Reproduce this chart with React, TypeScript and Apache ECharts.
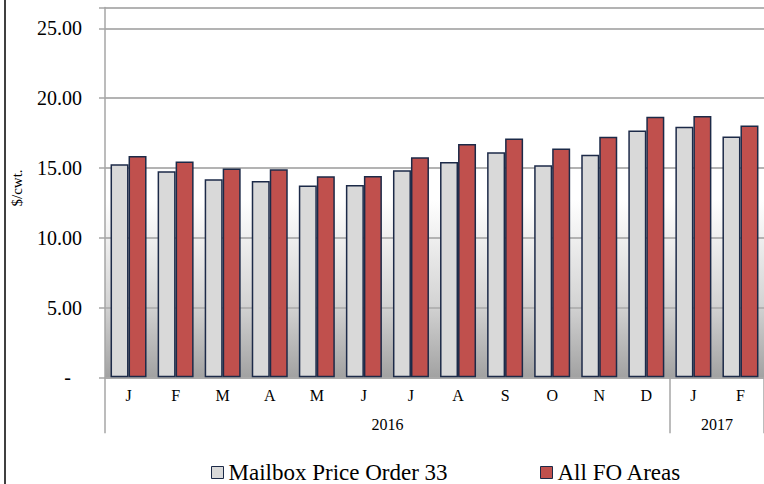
import React, { useEffect, useRef } from "react";
import * as echarts from "echarts";

const months = ["J", "F", "M", "A", "M", "J", "J", "A", "S", "O", "N", "D", "J", "F"];
const years = ["2016", "2017"];
const yearSpans = [12, 2];
const mailboxName = "Mailbox Price Order 33";
const allFoName = "All FO Areas";
const mailbox = [15.26, 14.76, 14.2, 14.06, 13.75, 13.78, 14.83, 15.42, 16.13, 15.19, 15.95, 17.69, 17.95, 17.26];
const allFo = [15.85, 15.47, 14.97, 14.9, 14.4, 14.42, 15.76, 16.71, 17.12, 16.4, 17.24, 18.67, 18.72, 18.05];
const yTicks = [0, 5, 10, 15, 20, 25];

const FONT = "Liberation Serif";

export default function App() {
  const ref = useRef<HTMLDivElement>(null);

  useEffect(() => {
    if (!ref.current) return;
    const chart = echarts.init(ref.current, undefined, { renderer: "svg" });

    // year axis built on half-category steps
    const n = months.length * 2 + 1;
    const yearData: string[] = new Array(n).fill("");
    const boundaryIdx: number[] = [0];
    let start = 0;
    years.forEach((y, i) => {
      const end = start + yearSpans[i];
      yearData[start + end] = y; // midpoint in half steps
      boundaryIdx.push(end * 2);
      start = end;
    });

    const border = "#1c2a48";
    const legendText = { fontFamily: FONT, fontSize: 23, color: "#000", lineHeight: 23 };

    chart.setOption({
      animation: false,
      backgroundColor: "#ffffff",
      textStyle: { fontFamily: FONT, color: "#000" },
      grid: {
        left: 105,
        right: -3,
        top: 7.5,
        bottom: 484 - 377.3,
        show: true,
        borderWidth: 0,
        backgroundColor: new echarts.graphic.LinearGradient(0, 0, 0, 1, [
          { offset: 0, color: "#ffffff" },
          { offset: 0.52, color: "#ffffff" },
          { offset: 0.8, color: "#d4d4d4" },
          { offset: 1, color: "#a2a2a2" },
        ]),
      },
      legend: [
        {
          data: [mailboxName],
          icon: "rect",
          left: 211,
          top: 461,
          padding: 0,
          itemWidth: 12,
          itemHeight: 12,
          textStyle: legendText,
          itemStyle: { borderColor: border, borderWidth: 1 },
        },
        {
          data: [allFoName],
          icon: "rect",
          left: 540,
          top: 461,
          padding: 0,
          itemWidth: 12,
          itemHeight: 12,
          textStyle: legendText,
          itemStyle: { borderColor: border, borderWidth: 1 },
        },
      ],
      xAxis: [
        {
          type: "category",
          data: months,
          position: "bottom",
          axisLine: { show: true, lineStyle: { color: "#a6a6a6", width: 1.5 } },
          axisTick: { show: false },
          axisLabel: { interval: 0, margin: 10, fontFamily: FONT, fontSize: 16, color: "#000" },
          splitLine: { show: false },
        },
        {
          type: "category",
          data: yearData,
          boundaryGap: false,
          position: "bottom",
          offset: 0,
          axisLine: { show: false },
          axisTick: {
            show: true,
            length: 56,
            interval: (index: number) => boundaryIdx.indexOf(index) >= 0,
            lineStyle: { color: "#a6a6a6", width: 1.5 },
          },
          axisLabel: {
            interval: (index: number, value: string) => value !== "",
            margin: 39,
            fontFamily: FONT,
            fontSize: 16,
            color: "#000",
          },
          splitLine: { show: false },
        },
      ],
      yAxis: {
        type: "value",
        min: 0,
        max: 26.5,
        interval: 5,
        axisLine: { show: true, lineStyle: { color: "#a6a6a6", width: 1.5 } },
        axisTick: { show: true, length: 6, lineStyle: { color: "#a6a6a6", width: 1.5 } },
        splitLine: { show: true, lineStyle: { color: "#b3b3b3", width: 2 } },
        axisLabel: {
          margin: 23,
          fontFamily: FONT,
          fontSize: 20,
          color: "#000",
          formatter: (v: number) => {
            if (yTicks.indexOf(v) < 0) return "";
            if (v === 0) return "{d|-}";
            return v.toFixed(2);
          },
          rich: {
            d: { fontFamily: FONT, fontSize: 20, color: "#000", padding: [0, 11, 0, 0] },
          },
        },
      },
      graphic: [
        {
          type: "line",
          shape: { x1: 5, y1: 0, x2: 5, y2: 484 },
          style: { stroke: "#000", lineWidth: 1.5 },
          silent: true,
        },
        {
          type: "text",
          x: 17,
          y: 188,
          rotation: Math.PI / 2,
          style: {
            text: "$/cwt.",
            fontFamily: FONT,
            fontSize: 15,
            fill: "#000",
            align: "center",
            verticalAlign: "middle",
          },
          silent: true,
        },
      ],
      series: [
        {
          name: mailboxName,
          type: "bar",
          data: mailbox,
          barWidth: 18,
          barGap: "0%",
          itemStyle: { color: "#d9d9d9", borderColor: border, borderWidth: 1.5 },
        },
        {
          name: allFoName,
          type: "bar",
          data: allFo,
          barWidth: 18,
          barGap: "0%",
          itemStyle: { color: "#c0504d", borderColor: border, borderWidth: 1.5 },
        },
      ],
    });

    return () => chart.dispose();
  }, []);

  return (
    <div
      ref={ref}
      style={{ position: "fixed", left: 0, top: 0, width: 764, height: 484, background: "#fff" }}
    />
  );
}
